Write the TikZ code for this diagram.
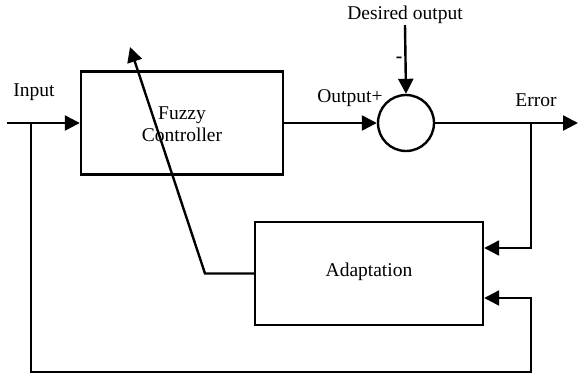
\documentclass[tikz,border=0pt]{standalone}
\usepackage{fontspec}
\setmainfont{Liberation Serif}
\usetikzlibrary{arrows.meta}
\begin{document}
\begin{tikzpicture}[x=1pt,y=-1pt,
  line width=2.4pt,
  blk/.style={draw,rectangle,minimum width=#1,minimum height=103pt,inner sep=0pt},
  lbl/.style={font=\fontsize{19.5}{22}\selectfont,inner sep=0pt},
  tip/.style={-{Triangle[length=15pt,width=15pt]}}]
\useasboundingbox (0,0) rectangle (579,376);
\node[blk=202pt] (fuzzy) at (182,123) {};
\node[lbl,align=center] (ftxt) at (182,124) {Fuzzy\\Controller};
\node[blk=228pt] (adapt) at (369,273.5) {};
\node[lbl] (atxt) at (369,272) {Adaptation};
\node[draw,circle,minimum size=56pt,inner sep=0pt] (sum) at (406,123) {};
\node[lbl] (input) at (34,92) {Input};
\node[lbl] (outp) at (350,98) {Output+};
\node[lbl] (err) at (536,100) {Error};
\node[lbl] (des) at (405,15) {Desired output};
\node[lbl,font=\bfseries\fontsize{19.5}{22}\selectfont] (minus) at (399,60) {-};
\coordinate (inS) at (7,123);
\coordinate (fbT) at (31,123);
\coordinate (fbB) at (31,372);
\coordinate (fbR) at (531,372);
\coordinate (fbU) at (531,298);
\coordinate (desS) at (405,25);
\coordinate (errE) at (578,123);
\coordinate (errT) at (531,123);
\coordinate (errB) at (531,248);
\coordinate (bend) at (205,273.5);
\coordinate (atip) at (130,47);
\draw[tip] (inS) -- (fuzzy.west);
\draw[tip] (fuzzy.east) -- (sum.west);
\draw[tip] (desS) -- (sum.north);
\draw[tip] (sum.east) -- (errE);
\draw[tip] (errT) -- (errB) -- (adapt.east |- errB);
\draw[tip] (fbT) -- (fbB) -- (fbR) -- (fbU) -- (adapt.east |- fbU);
\draw[tip] (adapt.west) -- (bend) -- (atip);
\end{tikzpicture}
\end{document}
